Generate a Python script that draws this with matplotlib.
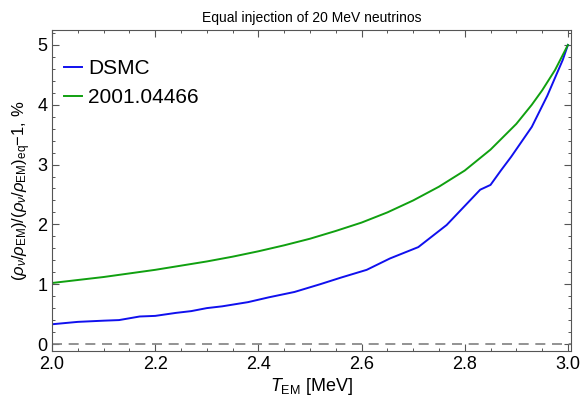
import matplotlib
matplotlib.use('Agg')
from matplotlib import pyplot as plt
from matplotlib.ticker import MultipleLocator
import numpy as np

plt.rcParams['font.family'] = ['Liberation Sans', 'DejaVu Sans']
plt.rcParams['mathtext.fontset'] = 'custom'
plt.rcParams['mathtext.rm'] = 'Liberation Sans'
plt.rcParams['mathtext.it'] = 'Liberation Sans:italic'

# DSMC result
t_dsmc = [2.00, 2.05, 2.10, 2.13, 2.17, 2.20, 2.24, 2.27, 2.30, 2.33, 2.38,
          2.42, 2.47, 2.52, 2.56, 2.61, 2.655, 2.71, 2.765, 2.83, 2.85, 2.87,
          2.89, 2.93, 2.96, 2.99, 3.00]
d_dsmc = [0.33, 0.37, 0.39, 0.40, 0.46, 0.47, 0.52, 0.55, 0.60, 0.63, 0.70,
          0.78, 0.87, 1.00, 1.11, 1.24, 1.43, 1.62, 1.99, 2.58, 2.66, 2.90,
          3.13, 3.63, 4.15, 4.75, 5.00]

# 2001.04466
t_ref = [2.00, 2.05, 2.10, 2.15, 2.20, 2.25, 2.30, 2.35, 2.40, 2.45, 2.50,
         2.55, 2.60, 2.65, 2.70, 2.75, 2.80, 2.85, 2.90, 2.93, 2.95, 2.975,
         3.00]
d_ref = [1.02, 1.07, 1.12, 1.18, 1.24, 1.31, 1.38, 1.46, 1.55, 1.65, 1.76,
         1.89, 2.03, 2.20, 2.40, 2.63, 2.90, 3.25, 3.68, 4.00, 4.24, 4.58,
         5.00]

fig = plt.figure(figsize=(5.82, 4.04), dpi=100)
ax = fig.add_axes([52/582, 1-351/404, (571-52)/582, (351-30)/404])

ax.axhline(0, color='#808080', lw=1.2, dashes=(6, 4))
ax.plot(t_dsmc, d_dsmc, color='#1010ee', lw=1.4, label='DSMC')
ax.plot(t_ref, d_ref, color='#10a010', lw=1.4, label='2001.04466')

ax.set_xlim(2.0, 3.006)
ax.set_ylim(-0.117, 5.25)
ax.xaxis.set_major_locator(MultipleLocator(0.2))
ax.xaxis.set_minor_locator(MultipleLocator(0.05))
ax.yaxis.set_major_locator(MultipleLocator(1))
ax.yaxis.set_minor_locator(MultipleLocator(0.2))
ax.set_xticks([2.0, 2.2, 2.4, 2.6, 2.8, 3.0])
ax.set_xticklabels(['2.0', '2.2', '2.4', '2.6', '2.8', '3.0'])
ax.tick_params(which='both', direction='in', top=True, right=True,
               labelsize=13, color='#555555')
ax.tick_params(which='major', length=5, width=0.8)
ax.tick_params(which='minor', length=2.5, width=0.7)
for s in ax.spines.values():
    s.set_color('#555555')
    s.set_linewidth(0.8)

ax.set_title('Equal injection of 20 MeV neutrinos', fontsize=10, pad=6)
ax.set_xlabel(r'$T_{\rm EM}$ [MeV]', fontsize=13, labelpad=2)
ax.set_ylabel(r'$(\rho_\nu/\rho_{\rm EM})/(\rho_\nu/\rho_{\rm EM})_{\rm eq}{-}1$, %',
              fontsize=12, labelpad=3)

ax.legend(loc='upper left', frameon=False, fontsize=15, handlelength=0.85,
          handletextpad=0.3, borderaxespad=0.3, labelspacing=0.5,
          bbox_to_anchor=(-0.005, 0.955))

fig.savefig('out.png', dpi=100)
